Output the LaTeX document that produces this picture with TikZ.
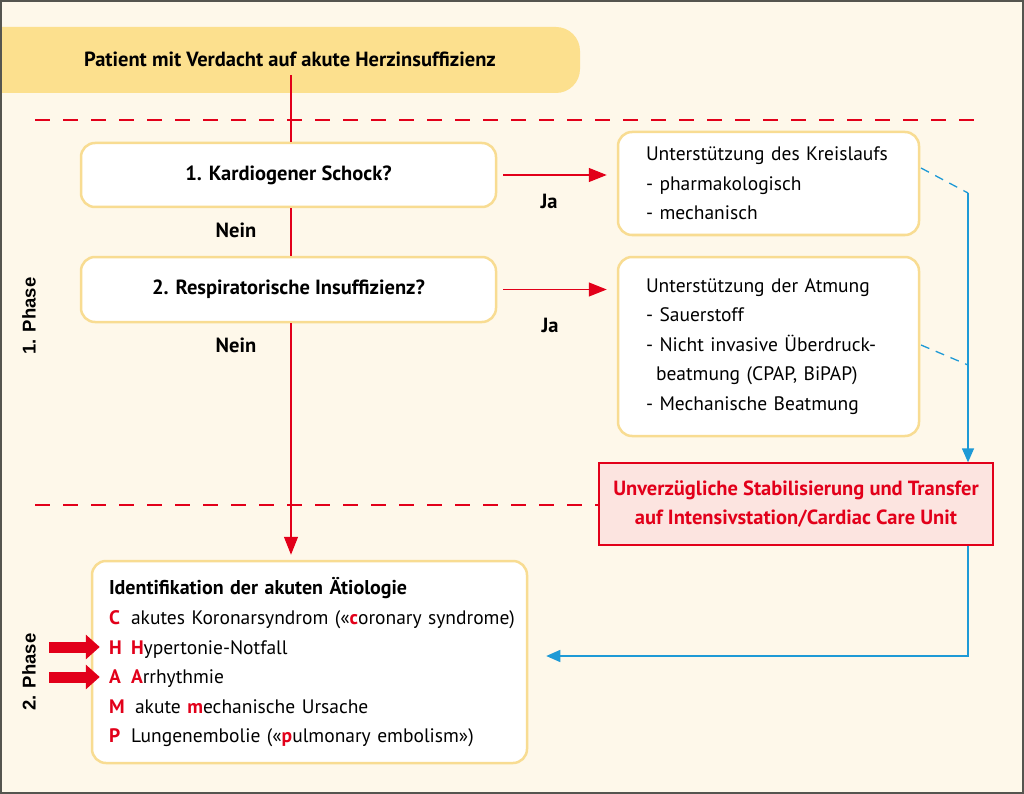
\documentclass[tikz,border=0pt]{standalone}
\usepackage{fontspec}
\setmainfont{PT Sans}
\newfontfamily\phasefont{Liberation Sans}
\usetikzlibrary{arrows.meta,calc}
\definecolor{bg}{HTML}{FEF8EA}
\definecolor{banner}{HTML}{FCE08E}
\definecolor{boxy}{HTML}{F8DC92}
\definecolor{myred}{HTML}{E2001A}
\definecolor{myblue}{HTML}{1E9AD6}
\definecolor{pink}{HTML}{FCE4E0}
\definecolor{frame}{HTML}{55554F}
\begin{document}
\begin{tikzpicture}[x=1pt,y=-1pt,
  ybox/.style={draw=boxy, line width=2.5pt, fill=white, rounded corners=14pt, inner sep=0pt},
  body/.style={font=\fontsize{19.5}{29.5}\selectfont},
  bodyb/.style={font=\fontsize{20.5}{29.5}\selectfont\bfseries},
  redline/.style={draw=myred, line width=1.4pt},
  redarrow/.style={redline, -{Triangle[length=18pt,width=14pt]}},
  reddash/.style={draw=myred, line width=1.6pt, dash pattern=on 15pt off 13pt},
  blueline/.style={draw=myblue, line width=1.3pt},
  bluearrow/.style={blueline, -{Triangle[length=14pt,width=12pt]}},
  bluedash/.style={blueline, dash pattern=on 9pt off 7pt},
  blockarrow/.style={draw=myred, line width=11pt, -{Triangle[length=14pt,width=24pt]}},
  phase/.style={font=\phasefont\bfseries\fontsize{18.5}{20}\selectfont, rotate=90}
]
\useasboundingbox (0,0) rectangle (1024,794);
\begin{scope}
\clip (0,0) rectangle (1024,794);
\fill[bg] (0,0) rectangle (1024,794);
% banner
\node[fill=banner, rounded corners=24pt, minimum width=640pt, minimum height=66pt, inner sep=0pt] (banner) at (260,60) {};
\node[font=\fontsize{20.5}{24}\selectfont\bfseries] (bannertext) at (290,59) {Patient mit Verdacht auf akute Herzinsuffizienz};
\coordinate (top) at (291,75);
% dashed lines
\draw[reddash] (35,120) -- (975,120);
% boxes
\node[ybox, minimum width=415pt, minimum height=64pt, bodyb] (q1) at (288.5,175) {1. Kardiogener Schock?};
\node[ybox, minimum width=415pt, minimum height=65pt, bodyb] (q2) at (288.5,289.5) {2. Respiratorische Insuffizienz?};
\node[ybox, minimum height=103pt, text width=245pt, inner xsep=28pt, align=left, body] (r1) at (768.5,183.5)
  {Unterstützung des Kreislaufs\\- pharmakologisch\\- mechanisch};
\node[ybox, minimum height=179pt, text width=245pt, inner xsep=28pt, align=left, body] (r2) at (768.5,346.5)
  {Unterstützung der Atmung\\- Sauerstoff\\- Nicht invasive Überdruck-\\\hspace*{10pt}beatmung (CPAP, BiPAP)\\- Mechanische Beatmung};
\node[draw=myred, line width=1.3pt, fill=pink, minimum width=394pt, minimum height=82pt, align=center,
  font=\fontsize{20.5}{29}\selectfont\bfseries, text=myred, inner sep=0pt] (icu) at (796,504)
  {Unverzügliche Stabilisierung und Transfer\\auf Intensivstation/Cardiac Care Unit};
\draw[reddash] (35,505) -- (icu.west |- 0,505);
\node[ybox, minimum height=202pt, text width=401pt, inner xsep=17pt, align=left, body] (eti) at (309.5,662)
  {\mbox{\bfseries\fontsize{20}{29.5}\selectfont Identifikation der akuten Ätiologie}\\[1pt]
   \mbox{\makebox[22pt][l]{\textcolor{myred}{\bfseries C}}akutes Koronarsyndrom («\textcolor{myred}{\bfseries c}oronary syndrome)}\\
   \mbox{\makebox[22pt][l]{\textcolor{myred}{\bfseries H}}\textcolor{myred}{\bfseries H}ypertonie-Notfall}\\
   \mbox{\makebox[22pt][l]{\textcolor{myred}{\bfseries A}}\textcolor{myred}{\bfseries A}rrhythmie}\\
   \mbox{\makebox[26pt][l]{\textcolor{myred}{\bfseries M}}akute \textcolor{myred}{\bfseries m}echanische Ursache}\\
   \mbox{\makebox[22pt][l]{\textcolor{myred}{\bfseries P}}Lungenembolie («\textcolor{myred}{\bfseries p}ulmonary embolism»)}};
% labels
\node[bodyb] (nein1) at (236,230) {Nein};
\node[bodyb] (nein2) at (236,345) {Nein};
\node[bodyb] (ja1) at (549,201) {Ja};
\node[bodyb] (ja2) at (550,325) {Ja};
\node[phase] (ph1) at (29,316) {1. Phase};
\node[phase] (ph2) at (29,672) {2. Phase};
% red connectors
\draw[redline] (top) -- (top |- q1.north);
\draw[redline] (q1.south -| top) -- (q2.north -| top);
\draw[redarrow] (q2.south -| top) -- ($(eti.north -| top)+(0,-5)$);
\draw[redarrow] ($(q1.east)+(6,0)$) -- ($(r1.west |- q1.east)+(-10,0)$);
\draw[redarrow] ($(q2.east)+(6,0)$) -- ($(r2.west |- q2.east)+(-10,0)$);
% blue connectors
\coordinate (b1) at (968,193);
\coordinate (b2) at (968,365);
\coordinate (b3) at (968,656);
\draw[bluedash] (921,168) -- (b1);
\draw[bluedash] (921,345) -- (b2);
\draw[bluearrow] (b1) -- (b1 |- icu.north);
\draw[bluearrow] (icu.south -| b1) -- (b3) -- ($(eti.east |- b3)+(18,0)$);
% block arrows
\coordinate (hA) at (49,647);
\coordinate (aA) at (49,677);
\draw[blockarrow] (hA) -- ($(eti.west |- hA)+(9,0)$);
\draw[blockarrow] (aA) -- ($(eti.west |- aA)+(9,0)$);
\end{scope}
\draw[frame, line width=2pt] (1,1) rectangle (1023,793);
\end{tikzpicture}
\end{document}
